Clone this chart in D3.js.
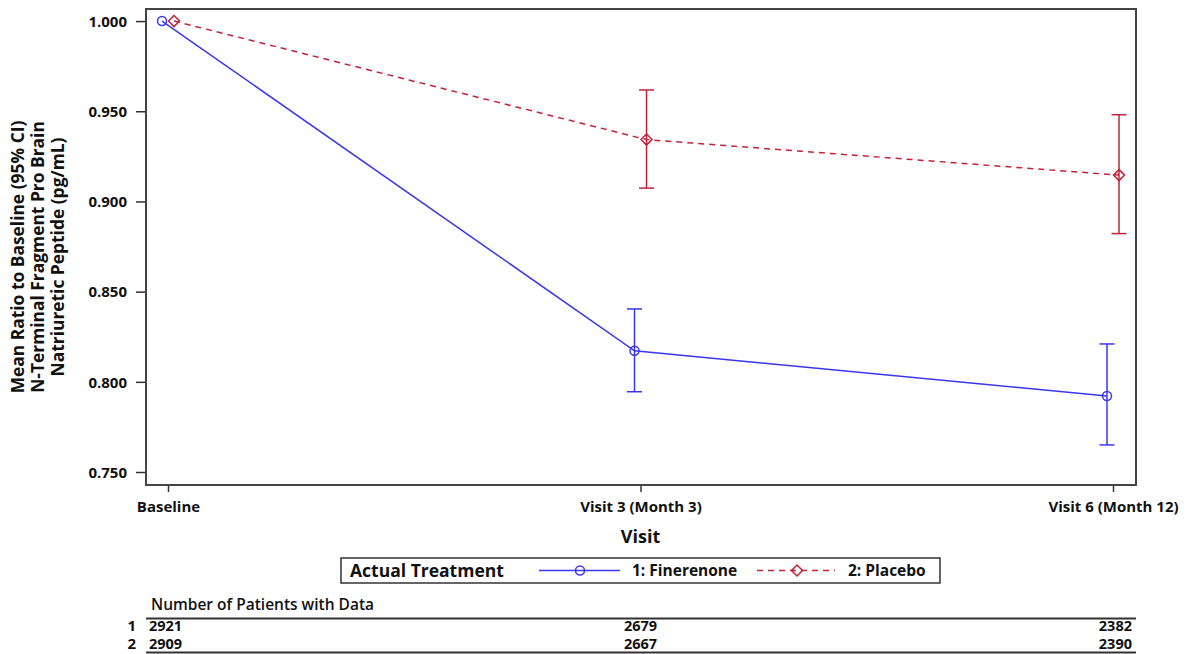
<!DOCTYPE html>
<html>
<head>
<meta charset="utf-8">
<script src="https://cdn.jsdelivr.net/npm/d3@7"></script>
<style>
  body { margin: 0; background: #fff; }
  svg text { font-family: "Open Sans", "Noto Sans", sans-serif; font-weight: 700; fill: #111; }
</style>
</head>
<body>
<script>
// chart data
var visits = ["Baseline", "Visit 3 (Month 3)", "Visit 6 (Month 12)"];
var groups = ["1: Finerenone", "2: Placebo"];
var fineMean = [1.000, 0.8172, 0.7921];
var fineLow = [null, 0.7945, 0.7650];
var fineHigh = [null, 0.8404, 0.8210];
var placMean = [1.000, 0.9343, 0.9146];
var placLow = [null, 0.9074, 0.8822];
var placHigh = [null, 0.9618, 0.9481];
var yTicks = [0.75, 0.80, 0.85, 0.90, 0.95, 1.00];
var countsFine = [2921, 2679, 2382];
var countsPlac = [2909, 2667, 2390];

var W = 1187, H = 654;
var margin = {top: 9, right: 51, bottom: 169, left: 146},
  width = W - margin.left - margin.right,
  height = H - margin.top - margin.bottom;

var blue = "#3a37ee", red = "#c3223b";

var svg = d3.select("body").append("svg")
  .attr("width", W).attr("height", H);

var g = svg.append("g")
  .attr("transform", "translate(" + margin.left + "," + margin.top + ")");

var x = d3.scalePoint()
  .domain(visits)
  .range([22, width - 23]);

var y = d3.scaleLinear()
  .domain([0.7428, 1.0067])
  .range([height, 0]);

// y axis
var yAxis = g.append("g")
  .call(d3.axisLeft(y).tickValues(yTicks).tickFormat(d3.format(".3f")).tickSize(10).tickSizeOuter(0));
yAxis.select(".domain").remove();
yAxis.selectAll("line").attr("stroke", "#333").attr("stroke-width", 1.5);
yAxis.selectAll("text").style("font-size", "15px").attr("x", -19).attr("dy", "0.35em");

// x axis
var xAxis = g.append("g")
  .attr("transform", "translate(0," + height + ")")
  .call(d3.axisBottom(x).tickSize(7).tickSizeOuter(0));
xAxis.select(".domain").remove();
xAxis.selectAll("line").attr("stroke", "#333").attr("stroke-width", 1.5);
xAxis.selectAll("text").style("font-size", "15px").attr("y", 16);

// frame
g.append("rect")
  .attr("x", 0).attr("y", 0)
  .attr("width", width).attr("height", height)
  .attr("fill", "none").attr("stroke", "#444").attr("stroke-width", 2);

// series
var series = [
  {name: groups[0], mean: fineMean, low: fineLow, high: fineHigh, color: blue, dx: -6, dash: null, sym: "circle"},
  {name: groups[1], mean: placMean, low: placLow, high: placHigh, color: red, dx: 6, dash: "6,5", sym: "diamond"}
];

var line = d3.line();
var capW = 7.5;

series.forEach(function(s) {
  var pts = visits.map(function(v, i) { return [x(v) + s.dx, y(s.mean[i])]; });
  g.append("path")
    .attr("d", line(pts))
    .attr("fill", "none")
    .attr("stroke", s.color)
    .attr("stroke-width", 1.5)
    .attr("stroke-dasharray", s.dash);

  visits.forEach(function(v, i) {
    if (s.low[i] == null) return;
    var cx = x(v) + s.dx;
    var eg = g.append("g").attr("stroke", s.color).attr("stroke-width", 1.5);
    eg.append("line").attr("x1", cx).attr("x2", cx).attr("y1", y(s.low[i])).attr("y2", y(s.high[i]));
    eg.append("line").attr("x1", cx - capW).attr("x2", cx + capW).attr("y1", y(s.low[i])).attr("y2", y(s.low[i]));
    eg.append("line").attr("x1", cx - capW).attr("x2", cx + capW).attr("y1", y(s.high[i])).attr("y2", y(s.high[i]));
  });

  visits.forEach(function(v, i) {
    drawMarker(g, s.sym, x(v) + s.dx, y(s.mean[i]), s.color);
  });
});

function drawMarker(parent, sym, cx, cy, color) {
  if (sym === "circle") {
    parent.append("circle")
      .attr("cx", cx).attr("cy", cy).attr("r", 4.5)
      .attr("fill", "none").attr("stroke", color).attr("stroke-width", 1.5);
  } else {
    parent.append("path")
      .attr("d", "M" + cx + "," + (cy - 5.5) + "L" + (cx + 5.5) + "," + cy + "L" + cx + "," + (cy + 5.5) + "L" + (cx - 5.5) + "," + cy + "Z")
      .attr("fill", "none").attr("stroke", color).attr("stroke-width", 1.5);
  }
}

// y title
var yTitle = ["Mean Ratio to Baseline (95% CI)", "N-Terminal Fragment Pro Brain", "Natriuretic Peptide (pg/mL)"];
var yt = svg.append("text")
  .attr("transform", "translate(24," + 257 + ") rotate(-90)")
  .attr("text-anchor", "middle")
  .style("font-size", "17.4px");
yTitle.forEach(function(t, i) {
  yt.append("tspan").attr("x", 0).attr("dy", i === 0 ? 0 : 20).text(t);
});

// x title
svg.append("text")
  .attr("x", margin.left + x(visits[1])).attr("y", 543)
  .attr("text-anchor", "middle")
  .style("font-size", "18px")
  .text("Visit");

// legend
var lg = svg.append("g");
lg.append("rect")
  .attr("x", 341).attr("y", 558).attr("width", 599).attr("height", 25)
  .attr("fill", "#fff").attr("stroke", "#333").attr("stroke-width", 1.5);
lg.append("text").attr("x", 350).attr("y", 577).style("font-size", "17.5px").text("Actual Treatment");
lg.append("line").attr("x1", 539).attr("x2", 620).attr("y1", 570.5).attr("y2", 570.5)
  .attr("stroke", blue).attr("stroke-width", 1.5);
drawMarker(lg, "circle", 580, 570.5, blue);
lg.append("text").attr("x", 632).attr("y", 576).style("font-size", "15.5px").text(groups[0]);
lg.append("line").attr("x1", 757).attr("x2", 835).attr("y1", 570.5).attr("y2", 570.5)
  .attr("stroke", red).attr("stroke-width", 1.5).attr("stroke-dasharray", "6,5");
drawMarker(lg, "diamond", 797, 570.5, red);
lg.append("text").attr("x", 848).attr("y", 576).style("font-size", "15.5px").text(groups[1]);

// patient table
var tb = svg.append("g").attr("class", "tbl");
tb.append("text").attr("x", 151).attr("y", 610).style("font-size", "15.5px").style("font-weight", 600).text("Number of Patients with Data");
tb.append("line").attr("x1", 146).attr("x2", 1136).attr("y1", 618.5).attr("y2", 618.5).attr("stroke", "#333").attr("stroke-width", 2);
tb.append("line").attr("x1", 146).attr("x2", 1136).attr("y1", 652.5).attr("y2", 652.5).attr("stroke", "#333").attr("stroke-width", 2);
var rows = [countsFine, countsPlac];
rows.forEach(function(r, ri) {
  var ty = 631 + ri * 18;
  tb.append("text").attr("x", 136).attr("y", ty).attr("text-anchor", "end").style("font-size", "15px").text(ri + 1);
  r.forEach(function(c, ci) {
    var anchor = ci === 0 ? "start" : (ci === 2 ? "end" : "middle");
    var tx = ci === 0 ? 149 : (ci === 2 ? 1132 : x(visits[1]) + margin.left);
    tb.append("text").attr("x", tx).attr("y", ty).attr("text-anchor", anchor)
      .style("font-size", "14.5px").text(c);
  });
});
</script>
</body>
</html>
